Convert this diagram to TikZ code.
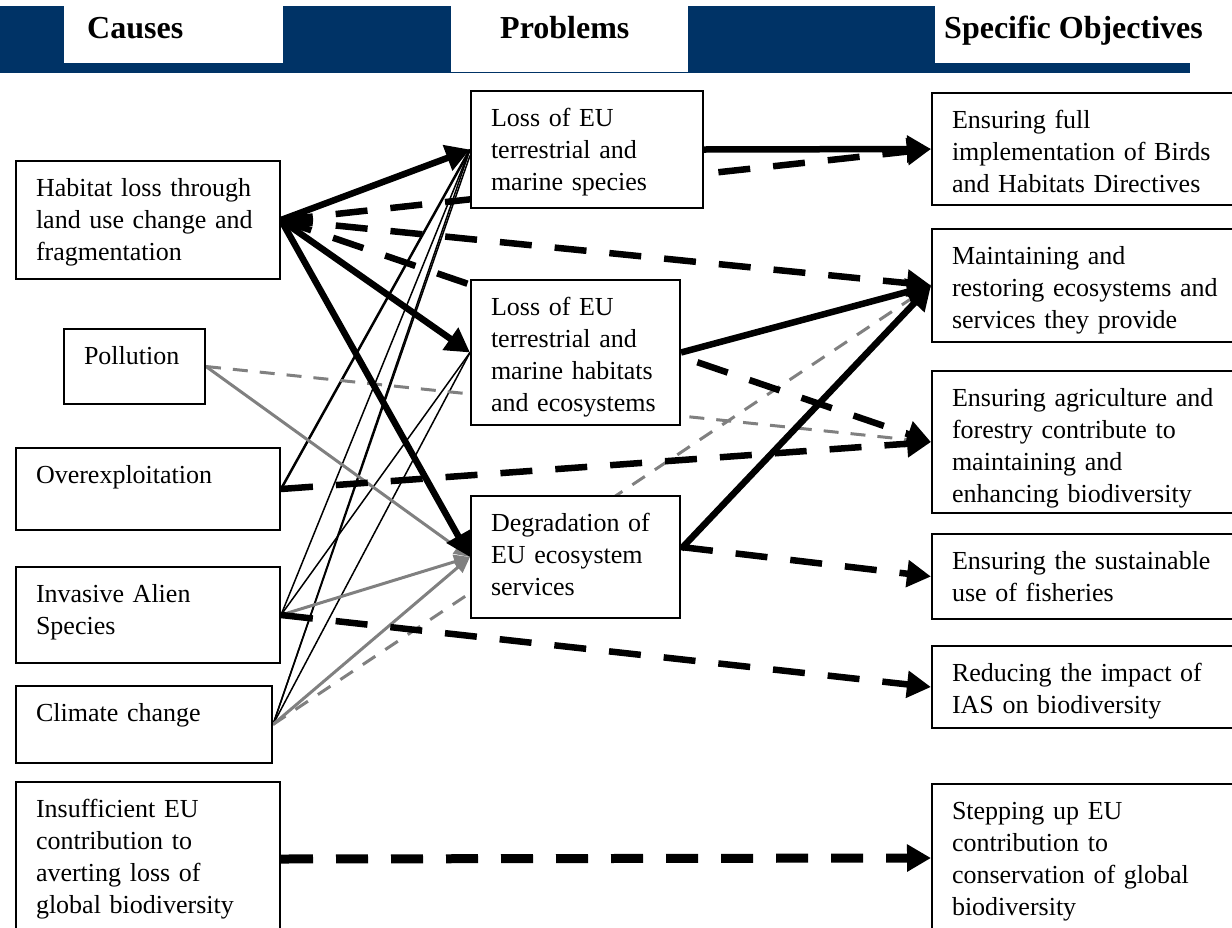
\documentclass[tikz,border=0pt]{standalone}
\usepackage{fontspec}
\setmainfont{Liberation Serif}
\usetikzlibrary{arrows.meta,backgrounds}
\definecolor{headblue}{RGB}{0,51,102}
\tikzset{
  box/.style={draw, line width=2pt, fill=white, anchor=north west, align=left,
    inner xsep=20pt, inner ysep=0pt, text height=35pt,
    font=\fontsize{26pt}{32pt}\selectfont},
  head/.style={anchor=base west, inner sep=0pt, font=\fontsize{32pt}{38pt}\selectfont\bfseries},
  bigarrow/.style={line width=6.5pt, -{Triangle[length=24pt,width=26pt]}},
  bigdash/.style={bigarrow, dash pattern=on 32pt off 23pt},
  thinlink/.style={line width=1.5pt},
  graylink/.style={gray, line width=3pt, -{Triangle[length=16pt,width=14pt]}},
  graydash/.style={gray, line width=3pt, dash pattern=on 15pt off 12pt}
}
\begin{document}
\begin{tikzpicture}[x=1pt, y=-1pt]
    \useasboundingbox (0,0) rectangle (1232,927);
    \fill[headblue] (0,6) rectangle (1190,73);
    \fill[white] (64,6) rectangle (283,63);
    \fill[white] (451,6) rectangle (688,72);
    \fill[white] (935,6) rectangle (1240,63);
    \node[head] (hcauses) at (87,38) {Causes};
    \node[head] (hproblems) at (500,38) {Problems};
    \node[head] (hobjectives) at (944,38) {Specific Objectives};

    \node[box, text width=224pt, text depth=83pt] (hab) at (15,160) {Habitat loss through\\land use change and\\fragmentation};
    \node[box, text width=101pt, text depth=40pt] (pol) at (63,328) {Pollution};
    \node[box, text width=224pt, text depth=47pt] (over) at (15,447) {Overexploitation};
    \node[box, text width=224pt, text depth=61pt] (inv) at (15,566) {Invasive Alien\\Species};
    \node[box, text width=216pt, text depth=42pt] (clim) at (15,685) {Climate change};
    \node[box, text width=224pt, text depth=119pt] (ins) at (15,781) {Insufficient EU\\contribution to\\averting loss of\\global biodiversity};

    \node[box, text width=192pt, text depth=82pt] (species) at (470,90) {Loss of EU\\terrestrial and\\marine species};
    \node[box, text width=169pt, text depth=110pt] (habitats) at (470,279) {Loss of EU\\terrestrial and\\marine habitats\\and ecosystems};
    \node[box, text width=169pt, text depth=87pt] (services) at (470,495) {Degradation of\\EU ecosystem\\services};

    \node[box, text width=300pt, text depth=77pt] (birds) at (931,92) {Ensuring full\\implementation of Birds\\and Habitats Directives};
    \node[box, text width=300pt, text depth=78pt] (restore) at (931,228) {Maintaining and\\restoring ecosystems and\\services they provide};
    \node[box, text width=300pt, text depth=107pt] (agri) at (931,370) {Ensuring agriculture and\\forestry contribute to\\maintaining and\\enhancing biodiversity};
    \node[box, text width=300pt, text depth=50pt] (fish) at (931,533) {Ensuring the sustainable\\use of fisheries};
    \node[box, text width=300pt, text depth=47pt] (ias) at (931,645) {Reducing the impact of\\IAS on biodiversity};
    \node[box, text width=300pt, text depth=113pt] (global) at (931,783) {Stepping up EU\\contribution to\\conservation of global\\biodiversity};

    \begin{scope}[on background layer]
    \draw[thinlink] (inv.east) -- (species.west);
    \draw[thinlink] (clim.east) -- (species.west);
    \draw[thinlink] (clim.east) -- ([yshift=-6pt]species.west);
    \draw[thinlink] (inv.east) -- (habitats.west);
    \draw[thinlink] (clim.east) -- (habitats.west);
    \draw[line width=2.5pt] (over.east) -- (species.west);
    \draw[graydash] (pol.east) -- (agri.west);
    \draw[graydash] (clim.east) -- (restore.west);
    \draw[graylink] (pol.east) -- (services.west);
    \draw[graylink] (inv.east) -- (services.west);
    \draw[graylink] (clim.east) -- (services.west);
    \draw[bigdash] (hab.east) -- (birds.west);
    \draw[bigdash] (hab.east) -- (restore.west);
    \draw[bigdash] (hab.east) -- (agri.west);
    \draw[bigdash] (over.east) -- (agri.west);
    \draw[bigdash] ([yshift=10pt]services.east) -- (fish.west);
    \draw[bigdash] (inv.east) -- (ias.west);
    \draw[bigdash, line width=9pt] (ins.east) -- (global.west);
    \draw[bigarrow] (hab.east) -- (species.west);
    \draw[bigarrow] (hab.east) -- (habitats.west);
    \draw[bigarrow] (hab.east) -- (services.west);
    \draw[bigarrow] (species.east) -- (birds.west);
    \draw[bigarrow] (habitats.east) -- (restore.west);
    \draw[bigarrow] ([yshift=8pt]services.east) -- (restore.west);
    \end{scope}
\end{tikzpicture}
\end{document}
